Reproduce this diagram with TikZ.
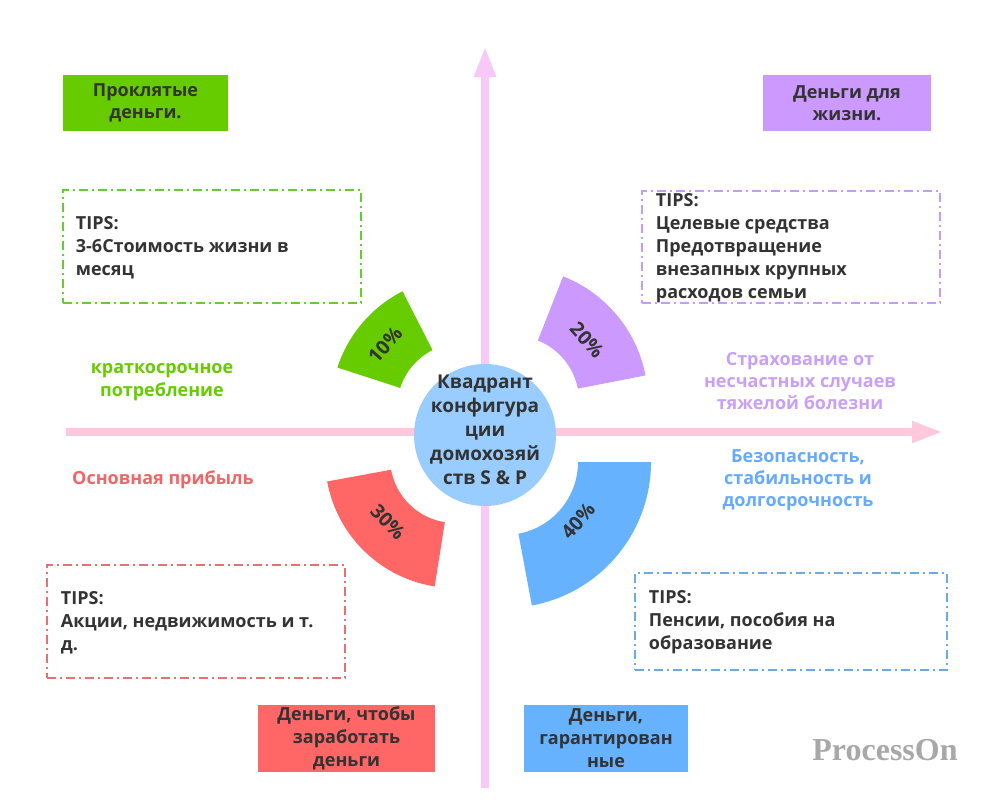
\documentclass[tikz,border=0pt]{standalone}
\usepackage{fontspec}
\setmainfont{Open Sans}
\newfontfamily\wmfont{Liberation Serif}
\usetikzlibrary{arrows.meta}
\definecolor{cg}{HTML}{66CC00}
\definecolor{cp}{HTML}{CC99FF}
\definecolor{cr}{HTML}{FF6666}
\definecolor{cb}{HTML}{66B2FF}
\definecolor{cc}{HTML}{99CCFF}
\definecolor{axh}{HTML}{FFC8DD}
\definecolor{axv}{HTML}{F8C8F8}
\definecolor{tx}{HTML}{333333}
\definecolor{bg}{HTML}{66CC33}
\definecolor{bp}{HTML}{C49BF5}
\definecolor{br}{HTML}{E87070}
\definecolor{bb}{HTML}{6AAAE8}
\definecolor{lp}{HTML}{C9A0F8}
\definecolor{lr}{HTML}{F06666}
\definecolor{lb}{HTML}{66AAFF}
\definecolor{wm}{HTML}{A8A8A8}
\tikzset{
  axisline/.style={line width=8pt, -{Triangle[length=31pt,width=20pt]}},
  tipbox/.style={draw, line width=2.6pt, dash pattern=on 9pt off 4pt on 2pt off 4pt, minimum height=113pt, inner sep=0pt},
  tiptext/.style={anchor=west, align=left, font=\bfseries\fontsize{18}{23}\selectfont, text=tx, inner sep=0pt},
  titlebox/.style={align=center, font=\bfseries\fontsize{18}{22}\selectfont, text=tx, inner sep=0pt},
  sidelabel/.style={align=center, font=\bfseries\fontsize{18}{22}\selectfont, inner sep=0pt},
  pct/.style={font=\bfseries\fontsize{19.5}{19.5}\selectfont, text=tx, inner sep=0pt},
}
\begin{document}
\begin{tikzpicture}[x=1pt,y=-1pt]
\useasboundingbox (0,0) rectangle (1000,809);
\fill[white] (0,0) rectangle (1000,809);
% axes
\coordinate (hs) at (66,432);
\coordinate (he) at (943,432);
\coordinate (vs) at (485,788);
\coordinate (ve) at (485,46);
\draw[axisline, color=axh] (hs) -- (he);
\draw[axisline, color=axv] (vs) -- (ve);
% sectors
\fill[cg, shift={(462,408)}] (-117:65) arc[start angle=-117, end angle=-162, radius=65] -- (-162:131) arc[start angle=-162, end angle=-117, radius=131] -- cycle;
\fill[cp, shift={(514,401)}] (-68.5:65) arc[start angle=-68.5, end angle=-11, radius=65] -- (-11:134) arc[start angle=-11, end angle=-68.5, radius=134] -- cycle;
\fill[cr, shift={(455,458)}] (-190.4:65) arc[start angle=-190.4, end angle=-261, radius=65] -- (-261:130) arc[start angle=-261, end angle=-190.4, radius=130] -- cycle;
\fill[cb, shift={(505,462)}] (0:73) arc[start angle=0, end angle=79.4, radius=73] -- (79.4:146) arc[start angle=79.4, end angle=0, radius=146] -- cycle;
\node[pct, rotate=48] (p10) at (385,345) {10\%};
\node[pct, rotate=-48] (p20) at (587,340) {20\%};
\node[pct, rotate=-46] (p30) at (388,522) {30\%};
\node[pct, rotate=49] (p40) at (578,521) {40\%};
% center
\node[circle, fill=cc, minimum size=142pt, inner sep=0pt] (ctr) at (485,435) {};
\node[align=center, font=\bfseries\fontsize{19}{24}\selectfont, text=tx, inner sep=0pt] (ctrt) at (485,430) {Квадрант\\конфигура\\ции\\домохозяй\\ств S \& P};
% title boxes
\node[titlebox, fill=cg, minimum width=165pt, minimum height=56pt] (t1) at (145.5,103) {Проклятые\\деньги.};
\node[titlebox, fill=cp, minimum width=168pt, minimum height=56pt] (t2) at (847,103) {Деньги для\\жизни.};
\node[titlebox, fill=cr, minimum width=177pt, minimum height=67pt, font=\bfseries\fontsize{18}{23}\selectfont] (t3) at (346.5,738.5) {Деньги, чтобы\\заработать\\деньги};
\node[titlebox, fill=cb, minimum width=164pt, minimum height=67pt, font=\bfseries\fontsize{18}{23}\selectfont] (t4) at (606,738.5) {Деньги,\\гарантирован\\ные};
% tips boxes
\node[tipbox, draw=bg, minimum width=298pt] (b1) at (212,246.5) {};
\node[tiptext] (b1t) at ([xshift=14pt,yshift=-1.5pt]b1.west) {TIPS:\\3-6Стоимость жизни в\\месяц};
\node[tipbox, draw=bp, minimum width=298pt, minimum height=112pt] (b2) at (791,247) {};
\node[tiptext] (b2t) at ([xshift=15pt,yshift=-1pt]b2.west) {TIPS:\\Целевые средства\\Предотвращение\\внезапных крупных\\расходов семьи};
\node[tipbox, draw=br, minimum width=298pt] (b3) at (196,621.5) {};
\node[tiptext] (b3t) at ([xshift=15pt,yshift=-1.5pt]b3.west) {TIPS:\\Акции, недвижимость и т.\\д.};
\node[tipbox, draw=bb, minimum width=312pt, minimum height=97pt] (b4) at (791,621.5) {};
\node[tiptext] (b4t) at ([xshift=15pt,yshift=-1pt]b4.west) {TIPS:\\Пенсии, пособия на\\образование};
% side labels
\node[sidelabel, text=cg, font=\bfseries\fontsize{18}{23}\selectfont] (l1) at (162,382) {краткосрочное\\потребление};
\node[sidelabel, text=lr] (l2) at (163,480) {Основная прибыль};
\node[sidelabel, text=lp] (l3) at (800,381) {Страхование от\\несчастных случаев\\тяжелой болезни};
\node[sidelabel, text=lb] (l4) at (798,480) {Безопасность,\\стабильность и\\долгосрочность};
% watermark
\node[font=\wmfont\bfseries\fontsize{32}{32}\selectfont, text=wm, inner sep=0pt] (wmk) at (885,750) {ProcessOn};
\end{tikzpicture}
\end{document}
